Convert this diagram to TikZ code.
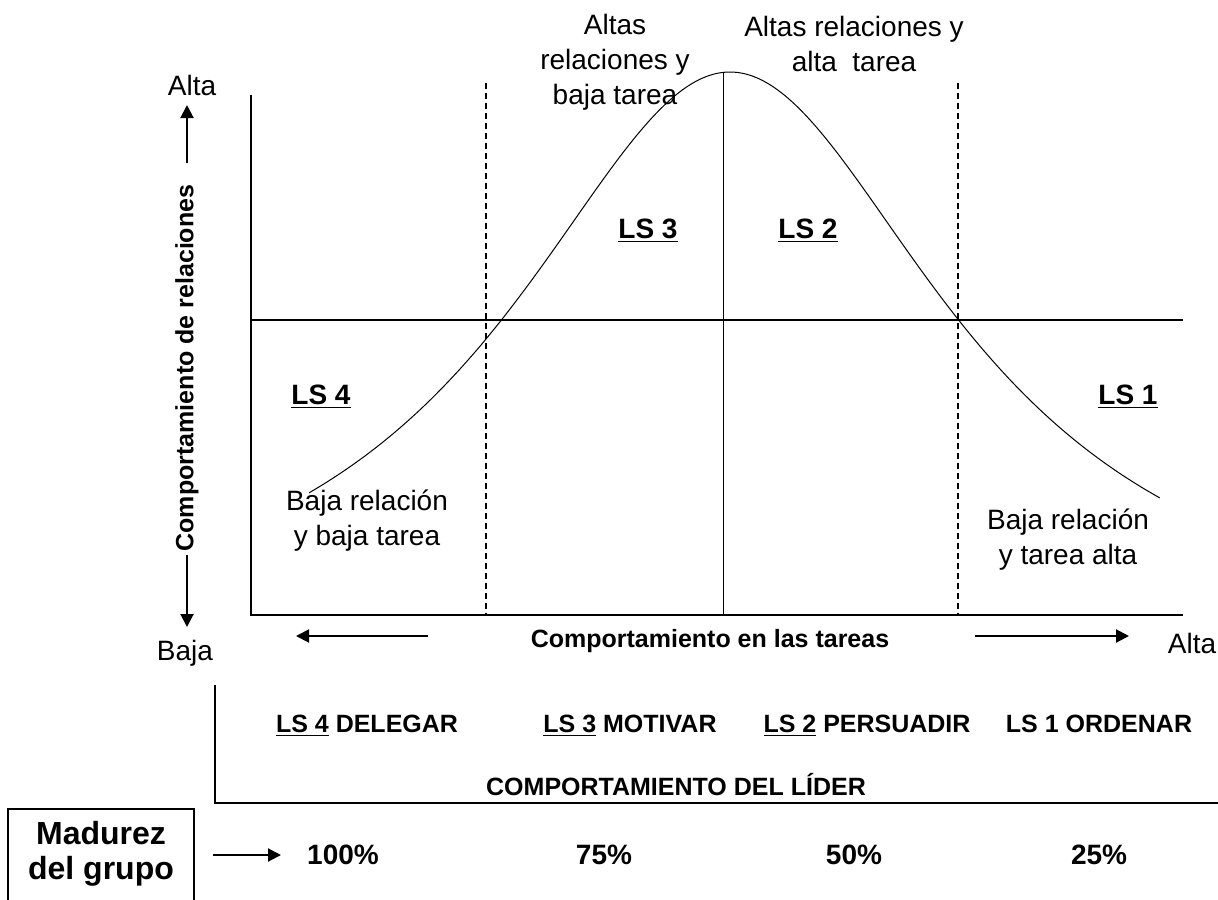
\documentclass[tikz,border=0pt]{standalone}
\usepackage{fontspec}
\setmainfont{Liberation Sans}
\usepackage{tikz}
\usetikzlibrary{arrows.meta}
\newcommand{\regsize}{\fontsize{14}{17.5}\selectfont}
\newcommand{\smallsize}{\fontsize{12.5}{15}\selectfont\bfseries}
\newcommand{\lssize}{\fontsize{14}{17.5}\selectfont\bfseries}
\newcommand{\madsize}{\fontsize{16}{17.5}\selectfont\bfseries}
\tikzstyle{plainlabel}=[inner sep=0, outer sep=0, align=center, font=\regsize]
\tikzstyle{smalllabel}=[inner sep=0, outer sep=0, align=center, font=\smallsize]
\tikzstyle{lslabel}=[inner sep=0, outer sep=0, align=center, font=\lssize]
\tikzstyle{madlabel}=[inner sep=0, outer sep=0, align=center, font=\madsize]
\tikzstyle{axisline}=[line width=0.75pt]
\tikzstyle{thinline}=[line width=0.5pt]
\tikzstyle{divider}=[line width=0.75pt, dash pattern=on 3pt off 2pt]
\tikzstyle{arrowline}=[line width=1pt, -{Triangle[length=6.5pt, width=6.5pt]}]
\tikzstyle{chart}=[x=0.5pt, y=-0.5pt,
                   % white page of the same size as the reference
                   execute at begin picture={\useasboundingbox (0,0) rectangle (1218,899);}]

\begin{document}
\begin{tikzpicture}[chart]
        % frame of the chart
        \coordinate (top)      at (251, 95);
        \coordinate (origin)   at (251, 615);
        \coordinate (xend)     at (1183, 615);
        \coordinate (midleft)  at (251, 320);
        \coordinate (midright) at (1183, 320);
        \coordinate (d1top)    at (486, 83);
        \coordinate (d1bot)    at (486, 615);
        \coordinate (d2top)    at (958, 83);
        \coordinate (d2bot)    at (958, 615);
        \coordinate (peak)     at (723, 72);
        \coordinate (peakbot)  at (723, 615);
        \draw[axisline] (top) -- (origin) -- (xend);
        \draw[axisline] (midleft) -- (midright);
        \draw[divider] (d1top) -- (d1bot);
        \draw[divider] (d2top) -- (d2bot);
        \draw[thinline] (peak) -- (peakbot);
        \draw[thinline] plot[domain=-1.559:1.593, samples=120, smooth]
              ({730+270*\x}, {72+594*\x*\x/(1+\x*\x)});
        % vertical axis
        \node[plainlabel]            (altay)      at (192, 85)  {Alta};
        \node[smalllabel, rotate=90] (relaciones) at (187, 368) {Comportamiento de relaciones};
        \node[plainlabel]            (bajay)      at (185, 653) {Baja};
        \coordinate (uptail) at (187, 163);
        \coordinate (uptip)  at (187, 105);
        \coordinate (dntail) at (187, 555);
        \coordinate (dntip)  at (187, 627);
        \draw[arrowline] (uptail) -- (uptip);
        \draw[arrowline] (dntail) -- (dntip);
        % horizontal axis
        \node[smalllabel] (tareas) at (710, 641)  {Comportamiento en las tareas};
        \node[plainlabel] (altax)  at (1192, 643) {Alta};
        \coordinate (lefttail)  at (428, 636);
        \coordinate (lefttip)   at (296, 636);
        \coordinate (righttail) at (975, 636);
        \coordinate (righttip)  at (1129, 636);
        \draw[arrowline] (lefttail) -- (lefttip);
        \draw[arrowline] (righttail) -- (righttip);
        % regions
        \node[plainlabel] (a3) at (615, 62)  {Altas\\relaciones y\\baja tarea};
        \node[plainlabel] (a2) at (854, 44)  {Altas relaciones y\\alta\ \ tarea};
        \node[lslabel]    (s3) at (648, 231) {\underline{LS 3}};
        \node[lslabel]    (s2) at (808, 231) {\underline{LS 2}};
        \node[lslabel]    (s4) at (321, 397) {\underline{LS 4}};
        \node[lslabel]    (s1) at (1128, 397) {\underline{LS 1}};
        \node[plainlabel] (b4) at (367, 521) {Baja relación\\y baja tarea};
        \node[plainlabel] (b1) at (1068, 540) {Baja relación\\y tarea alta};
        % leader behaviour
        \node[smalllabel, anchor=base] (delegar)   at (367, 732)  {\underline{LS 4} DELEGAR};
        \node[smalllabel, anchor=base] (motivar)   at (630, 732)  {\underline{LS 3} MOTIVAR};
        \node[smalllabel, anchor=base] (persuadir) at (867, 732)  {\underline{LS 2} PERSUADIR};
        \node[smalllabel, anchor=base] (ordenar)   at (1099, 732) {LS 1 ORDENAR};
        \node[smalllabel] (lider)     at (676, 785)  {COMPORTAMIENTO DEL LÍDER};
        \coordinate (bracktop) at (215, 685);
        \coordinate (brackend) at (1218, 803);
        \draw[axisline] (bracktop) |- (brackend);
        % group maturity
        \node[madlabel] (madurez) at (101, 854) {Madurez\\del grupo};
        \draw[axisline] (8, 915) rectangle (194, 809);
        \node[lslabel] (p100) at (343, 855)  {100\%};
        \node[lslabel] (p75)  at (604, 855)  {75\%};
        \node[lslabel] (p50)  at (854, 855)  {50\%};
        \node[lslabel] (p25)  at (1099, 855) {25\%};
        \coordinate (madtail) at (213, 855);
        \coordinate (madtip)  at (281, 855);
        \draw[arrowline] (madtail) -- (madtip);
\end{tikzpicture}
\end{document}
